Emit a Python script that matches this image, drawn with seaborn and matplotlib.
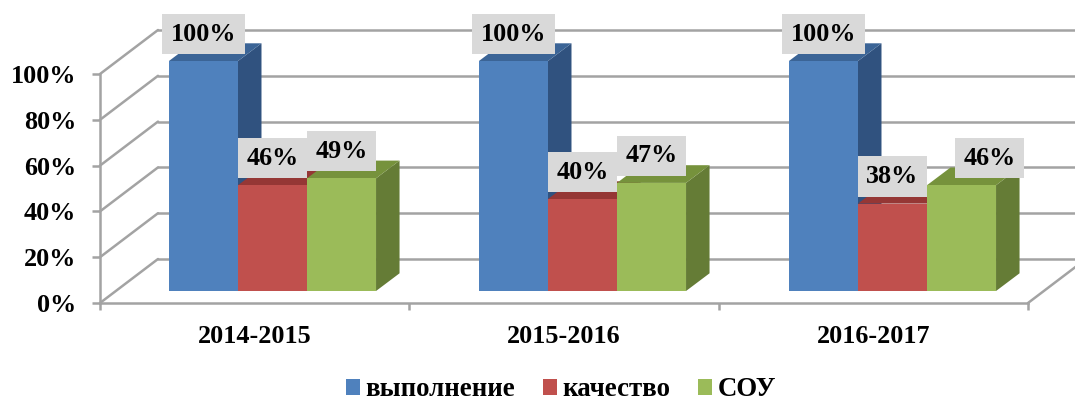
import pandas as pd
import seaborn as sns
import matplotlib.pyplot as plt
from matplotlib.patches import Polygon
from matplotlib.transforms import Affine2D

years = ["2014-2015", "2015-2016", "2016-2017"]
series = ["выполнение", "качество", "СОУ"]
vypolnenie = [100, 100, 100]
kachestvo = [46, 40, 38]
sou = [49, 47, 46]
y_ticks = [0, 20, 40, 60, 80, 100]

front_colors = ["#4f81bd", "#c0504d", "#9bbb59"]
top_colors = ["#3b6496", "#953735", "#76923c"]
side_colors = ["#30527f", "#8a3331", "#657c36"]
grid_color = "#a3a3a3"

W, H = 1075, 403

data = pd.DataFrame({
    "year": years * 3,
    "series": [s for s in series for _ in years],
    "value": vypolnenie + kachestvo + sou,
})

sns.set_theme(style="white")
plt.rcParams["font.family"] = ["Liberation Serif", "DejaVu Serif"]
plt.rcParams["font.weight"] = "bold"

fig = plt.figure(figsize=(W / 100, H / 100), dpi=100, facecolor="white")


def px_axes(left, right, top, bottom):
    return fig.add_axes([left / W, 1 - bottom / H, (right - left) / W, (bottom - top) / H])


# front plane of the fake 3d box: carries the real ticks and labels
ax_front = px_axes(100, 1028, 74, 303)
ax_front.set_xlim(-0.5, 2.5)
ax_front.set_ylim(0, 100)
ax_front.patch.set_alpha(0)
for side in ["top", "right"]:
    ax_front.spines[side].set_visible(False)
for side in ["left", "bottom"]:
    ax_front.spines[side].set_color(grid_color)
    ax_front.spines[side].set_linewidth(1.8)
ax_front.set_yticks(y_ticks)
ax_front.set_yticklabels([f"{v}%" for v in y_ticks], fontsize=18.8, fontweight="bold")
ax_front.set_xticks([-0.5, 0.5, 1.5, 2.5])
ax_front.set_xticklabels([])
ax_front.set_xticks([0, 1, 2], minor=True)
ax_front.set_xticklabels(years, minor=True, fontsize=18.8, fontweight="bold")
ax_front.tick_params(axis="y", left=True, length=6, width=1.8, color=grid_color, pad=11, labelcolor="black")
ax_front.tick_params(axis="x", which="major", bottom=True, length=5, width=1.8, color=grid_color)
ax_front.tick_params(axis="x", which="minor", bottom=False, length=0, pad=15.5, labelcolor="black")

# back wall and side wall lines
to_back = ax_front.transData + Affine2D().translate(58, 44)
for v in y_ticks:
    ax_front.plot([-0.5, 2.7], [v, v], color=grid_color, lw=1.8, transform=to_back, clip_on=False)
    x0, y0 = ax_front.transData.transform((-0.5, v))
    ax_front.plot([x0, x0 + 58], [y0, y0 + 44], color=grid_color, lw=1.8, transform=None, clip_on=False)
x1, y1 = ax_front.transData.transform((2.5, 0))
ax_front.plot([x1, x1 + 58], [y1, y1 + 44], color=grid_color, lw=1.8, transform=None, clip_on=False)

# bars sit a bit behind the front plane
ax = px_axes(117.5, 1047.5, 61, 291)
sns.barplot(data=data, x="year", y="value", hue="series", hue_order=series,
            palette=front_colors, width=0.668, gap=0, saturation=1, legend=False, ax=ax)
ax.set_xlim(-0.5, 2.5)
ax.set_ylim(0, 100)
ax.patch.set_alpha(0)
ax.axis("off")

dx = 23.5 / 310
dy = 17.7 / 2.3
for i, container in enumerate(ax.containers):
    for bar in container:
        x = bar.get_x()
        w = bar.get_width()
        h = bar.get_height()
        z = 2 + i * 3
        ax.add_patch(Polygon([(x + w, 0), (x + w + dx, dy), (x + w + dx, h + dy), (x + w, h)],
                             facecolor=side_colors[i], edgecolor="none", zorder=z, clip_on=False))
        ax.add_patch(Polygon([(x, h), (x + dx, h + dy), (x + w + dx, h + dy), (x + w, h)],
                             facecolor=top_colors[i], edgecolor="none", zorder=z, clip_on=False))
        bar.set_zorder(z + 1)
        bar.set_edgecolor("none")

# labels: 27 px above the bar top, last one pushed right like in the original
for i, container in enumerate(ax.containers):
    for j, bar in enumerate(container):
        shift = 28 if (i == 2 and j == 2) else 0
        ax.annotate(f"{bar.get_height():.0f}%",
                    (bar.get_x() + bar.get_width() / 2, bar.get_height()),
                    xytext=(shift * 0.72, 27 * 0.72), textcoords="offset points",
                    ha="center", va="center", fontsize=18.8, fontweight="bold", color="black",
                    bbox=dict(boxstyle="square,pad=0.33", facecolor="#d9d9d9", edgecolor="none"),
                    zorder=50, annotation_clip=False)

handles = [c[0] for c in ax.containers]
fig.legend(handles, series, loc="center", bbox_to_anchor=(561 / W, 1 - 390 / H), ncol=3, frameon=False,
           prop={"size": 19.4, "weight": "bold"}, labelcolor="black", handlelength=0.52, handleheight=0.5,
           handletextpad=0.18, columnspacing=1.05, borderpad=0, borderaxespad=0)

fig.savefig("out.png", dpi=100)
